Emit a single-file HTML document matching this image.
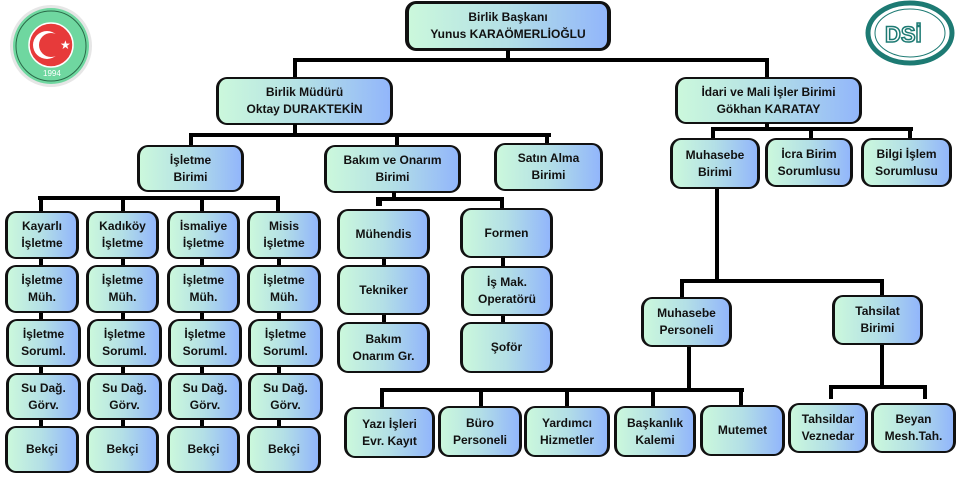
<!DOCTYPE html>
<html><head><meta charset="utf-8"><style>
*{margin:0;padding:0;box-sizing:border-box}
body{width:957px;height:479px;background:#fff;position:relative;overflow:hidden;font-family:"Liberation Sans",sans-serif}
.b{position:absolute;display:flex;align-items:center;justify-content:center;text-align:center;font-weight:bold;font-size:12px;line-height:17px;color:#111;border:2px solid #111;border-left-width:3px;border-right-width:3px;border-radius:11px;background:linear-gradient(90deg,#cbf8dc,#b3dfe6 50%,#92b6fb)}
.h{position:absolute;background:#000;height:4px}
.v{position:absolute;background:#000;width:4px}
</style></head><body>
<svg style="position:absolute;left:0;top:0" width="110" height="95">
<circle cx="51" cy="46" r="41" fill="#e6e6e6"/>
<circle cx="51" cy="46" r="38" fill="#6fd7a0"/>
<circle cx="51" cy="46" r="35" fill="none" stroke="#2a6a48" stroke-width="1"/>
<circle cx="51" cy="45" r="22" fill="#e73a3a" stroke="#fff" stroke-width="1.5"/>
<circle cx="47" cy="45" r="14" fill="#fff"/>
<circle cx="51" cy="45" r="12" fill="#e73a3a"/>
<text x="60" y="49" font-size="12" fill="#fff">★</text>
<text x="43" y="76" font-size="8" fill="#fff" font-family="Liberation Sans">1994</text>
</svg>
<svg style="position:absolute;left:860;top:0" width="97" height="70">
<ellipse cx="50" cy="33" rx="42" ry="30" fill="#fff" stroke="#1d7a73" stroke-width="5"/>
<ellipse cx="50" cy="33" rx="35" ry="24" fill="none" stroke="#1d7a73" stroke-width="1"/>
<text x="25" y="42" font-size="22" fill="#fff" stroke="#1d7a73" stroke-width="1.5" font-family="Liberation Sans" font-weight="bold">DSİ</text>
</svg>

<div class="b" style="left:405px;top:1px;width:206px;height:50px;border-width:3px 4px">Birlik Başkanı<br>Yunus KARAÖMERLİOĞLU</div>
<div class="v" style="left:506px;top:50px;height:10px"></div>
<div class="h" style="left:293px;top:58px;width:476px"></div>
<div class="v" style="left:293px;top:58px;height:19px"></div>
<div class="v" style="left:765px;top:58px;height:19px"></div>

<div class="b" style="left:216px;top:77px;width:177px;height:48px">Birlik Müdürü<br>Oktay DURAKTEKİN</div>
<div class="b" style="left:675px;top:77px;width:187px;height:47px">İdari ve Mali İşler Birimi<br>Gökhan KARATAY</div>

<div class="v" style="left:293px;top:124px;height:12px"></div>
<div class="h" style="left:189px;top:133px;width:362px"></div>
<div class="v" style="left:189px;top:133px;height:12px"></div>
<div class="v" style="left:395px;top:133px;height:12px"></div>
<div class="v" style="left:545px;top:133px;height:10px"></div>
<div class="b" style="left:137px;top:145px;width:107px;height:47px">İşletme<br>Birimi</div>
<div class="b" style="left:324px;top:145px;width:137px;height:48px">Bakım ve Onarım<br>Birimi</div>
<div class="b" style="left:494px;top:143px;width:109px;height:48px">Satın Alma<br>Birimi</div>

<div class="h" style="left:38px;top:196px;width:242px"></div>
<div class="v" style="left:39px;top:196px;height:15px"></div>
<div class="v" style="left:121px;top:196px;height:15px"></div>
<div class="v" style="left:200px;top:196px;height:15px"></div>
<div class="v" style="left:276px;top:196px;height:15px"></div>
<div class="v" style="left:39px;top:255px;height:215px"></div>
<div class="v" style="left:121px;top:255px;height:215px"></div>
<div class="v" style="left:200px;top:255px;height:215px"></div>
<div class="v" style="left:277px;top:255px;height:215px"></div>

<div class="b" style="left:5px;top:211px;width:74px;height:48px">Kayarlı<br>İşletme</div>
<div class="b" style="left:86px;top:211px;width:73px;height:48px">Kadıköy<br>İşletme</div>
<div class="b" style="left:167px;top:211px;width:73px;height:48px">İsmaliye<br>İşletme</div>
<div class="b" style="left:247px;top:211px;width:74px;height:48px">Misis<br>İşletme</div>

<div class="b" style="left:5px;top:265px;width:74px;height:48px">İşletme<br>Müh.</div>
<div class="b" style="left:86px;top:265px;width:73px;height:48px">İşletme<br>Müh.</div>
<div class="b" style="left:167px;top:265px;width:73px;height:48px">İşletme<br>Müh.</div>
<div class="b" style="left:247px;top:265px;width:74px;height:48px">İşletme<br>Müh.</div>

<div class="b" style="left:6px;top:319px;width:75px;height:48px">İşletme<br>Soruml.</div>
<div class="b" style="left:87px;top:319px;width:75px;height:48px">İşletme<br>Soruml.</div>
<div class="b" style="left:168px;top:319px;width:74px;height:48px">İşletme<br>Soruml.</div>
<div class="b" style="left:248px;top:319px;width:75px;height:48px">İşletme<br>Soruml.</div>

<div class="b" style="left:6px;top:373px;width:75px;height:47px">Su Dağ.<br>Görv.</div>
<div class="b" style="left:87px;top:373px;width:75px;height:47px">Su Dağ.<br>Görv.</div>
<div class="b" style="left:168px;top:373px;width:74px;height:47px">Su Dağ.<br>Görv.</div>
<div class="b" style="left:248px;top:373px;width:75px;height:47px">Su Dağ.<br>Görv.</div>

<div class="b" style="left:5px;top:426px;width:74px;height:47px">Bekçi</div>
<div class="b" style="left:86px;top:426px;width:73px;height:47px">Bekçi</div>
<div class="b" style="left:167px;top:426px;width:73px;height:47px">Bekçi</div>
<div class="b" style="left:247px;top:426px;width:74px;height:47px">Bekçi</div>

<div class="v" style="left:392px;top:192px;height:8px"></div>
<div class="h" style="left:376px;top:197px;width:128px"></div>
<div class="v" style="left:376px;top:197px;height:9px;width:6px"></div>
<div class="v" style="left:500px;top:197px;height:11px"></div>
<div class="v" style="left:382px;top:255px;height:70px"></div>
<div class="v" style="left:501px;top:255px;height:70px"></div>
<div class="b" style="left:337px;top:209px;width:93px;height:50px">Mühendis</div>
<div class="b" style="left:337px;top:265px;width:93px;height:50px">Tekniker</div>
<div class="b" style="left:337px;top:322px;width:93px;height:51px">Bakım<br>Onarım Gr.</div>
<div class="b" style="left:460px;top:208px;width:93px;height:50px">Formen</div>
<div class="b" style="left:461px;top:266px;width:92px;height:50px">İş Mak.<br>Operatörü</div>
<div class="b" style="left:460px;top:322px;width:93px;height:51px">Şoför</div>

<div class="v" style="left:765px;top:123px;height:8px"></div>
<div class="h" style="left:711px;top:127px;width:202px"></div>
<div class="v" style="left:711px;top:127px;height:12px"></div>
<div class="v" style="left:809px;top:127px;height:12px"></div>
<div class="v" style="left:908px;top:127px;height:12px"></div>
<div class="b" style="left:670px;top:138px;width:90px;height:51px">Muhasebe<br>Birimi</div>
<div class="b" style="left:765px;top:138px;width:88px;height:49px">İcra Birim<br>Sorumlusu</div>
<div class="b" style="left:861px;top:138px;width:91px;height:49px">Bilgi İşlem<br>Sorumlusu</div>

<div class="v" style="left:715px;top:189px;height:93px"></div>
<div class="h" style="left:680px;top:279px;width:204px"></div>
<div class="v" style="left:680px;top:279px;height:18px"></div>
<div class="v" style="left:880px;top:279px;height:17px"></div>
<div class="b" style="left:641px;top:297px;width:91px;height:50px">Muhasebe<br>Personeli</div>
<div class="b" style="left:832px;top:295px;width:91px;height:50px">Tahsilat<br>Birimi</div>

<div class="v" style="left:687px;top:347px;height:45px"></div>
<div class="h" style="left:380px;top:388px;width:364px"></div>
<div class="v" style="left:380px;top:388px;height:20px"></div>
<div class="v" style="left:479px;top:388px;height:20px"></div>
<div class="v" style="left:565px;top:388px;height:20px"></div>
<div class="v" style="left:651px;top:388px;height:20px"></div>
<div class="v" style="left:739px;top:388px;height:18px"></div>
<div class="b" style="left:344px;top:407px;width:91px;height:51px">Yazı İşleri<br>Evr. Kayıt</div>
<div class="b" style="left:438px;top:406px;width:84px;height:51px">Büro<br>Personeli</div>
<div class="b" style="left:524px;top:406px;width:86px;height:51px">Yardımcı<br>Hizmetler</div>
<div class="b" style="left:614px;top:406px;width:82px;height:51px">Başkanlık<br>Kalemi</div>
<div class="b" style="left:700px;top:405px;width:85px;height:51px">Mutemet</div>

<div class="v" style="left:880px;top:345px;height:44px"></div>
<div class="h" style="left:829px;top:385px;width:98px"></div>
<div class="v" style="left:829px;top:385px;height:14px"></div>
<div class="v" style="left:923px;top:385px;height:14px"></div>
<div class="b" style="left:788px;top:403px;width:80px;height:50px">Tahsildar<br>Veznedar</div>
<div class="b" style="left:871px;top:403px;width:85px;height:50px">Beyan<br>Mesh.Tah.</div>
</body></html>
